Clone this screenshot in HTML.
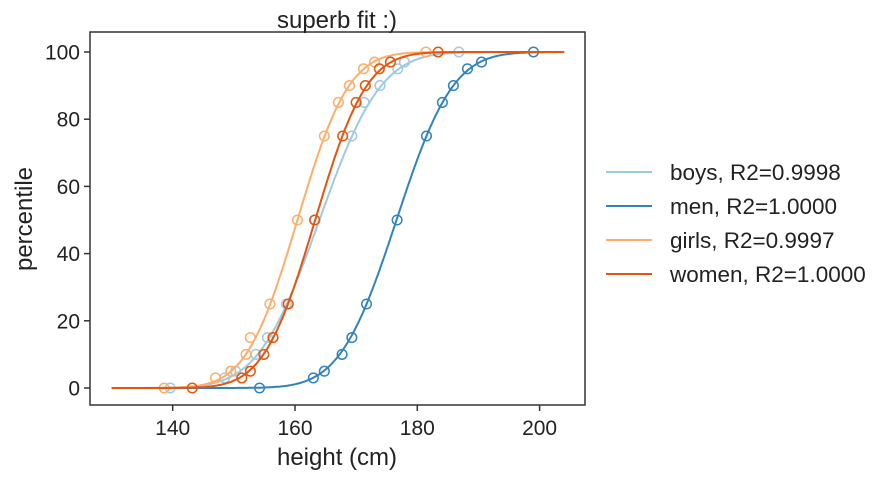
<!DOCTYPE html>
<html><head><meta charset="utf-8"><style>
body{margin:0;background:#fff;font-family:"Liberation Sans",Arial,sans-serif}
</style></head><body>
<svg id="c" width="889" height="477" xmlns="http://www.w3.org/2000/svg"></svg>
<script>
const levels=[0,3,5,10,15,25,50,75,85,90,95,97,100];
const boysH=[139.6,148.5,150.3,153.6,155.5,158.6,163.3,169.3,171.3,173.9,176.8,177.9,186.8];
const menH=[154.2,163.0,164.8,167.7,169.3,171.7,176.7,181.5,184.1,185.9,188.2,190.5,199.0];
const girlsH=[138.6,147.0,149.5,152.0,152.7,155.9,160.4,164.8,167.1,168.9,171.2,173.0,181.4];
const womenH=[143.2,151.3,152.7,154.9,156.4,158.9,163.2,167.8,170.0,171.5,173.8,175.6,183.4];
const fitMu=[164.0,176.6,160.4,163.3];
const fitSigma=[7.9,7.26,6.6,6.6];
const names=["boys, R2=0.9998","men, R2=1.0000","girls, R2=0.9997","women, R2=1.0000"];
const xTicks=[140,160,180,200];
const yTicks=[0,20,40,60,80,100];
const colors=["#9ecae1","#3182bd","#fdae6b","#e6550d"];
const series=[boysH,menH,girlsH,womenH];
const NS="http://www.w3.org/2000/svg";
const svg=document.getElementById('c');
const X=v=>172.7+(v-140)*6.115;
const Y=v=>388-v*3.36;
function el(t,a,p){const e=document.createElementNS(NS,t);for(const k in a)e.setAttribute(k,a[k]);(p||svg).appendChild(e);return e;}
function erf(x){const s=x<0?-1:1;x=Math.abs(x);const t=1/(1+0.3275911*x);const y=1-((((1.061405429*t-1.453152027)*t+1.421413741)*t-0.284496736)*t+0.254829592)*t*Math.exp(-x*x);return s*y;}
const frame=el('rect',{x:90,y:32,width:495,height:373,fill:'none',stroke:'#333','stroke-width':1.5});

xTicks.forEach(t=>{
 const l=el('line',{x1:X(t),x2:X(t),y1:405,y2:411,stroke:'#333','stroke-width':1.5});
 
 const tx=el('text',{x:X(t),y:435,'text-anchor':'middle','font-size':21,fill:'#222'});tx.textContent=t;
 
});
yTicks.forEach(t=>{
 const l=el('line',{x1:84,x2:90,y1:Y(t),y2:Y(t),stroke:'#333','stroke-width':1.5});
 
 const tx=el('text',{x:80,y:Y(t)+7.5,'text-anchor':'end','font-size':21,fill:'#222'});tx.textContent=t;
 
});
series.forEach((h,i)=>{
 let d='';
 for(let x=130;x<=204.001;x+=0.25){const p=50*(1+erf((x-fitMu[i])/(fitSigma[i]*Math.SQRT2)));d+=(d?'L':'M')+X(x).toFixed(1)+','+Y(p).toFixed(1);}
 const pa=el('path',{d:d,fill:'none',stroke:colors[i],'stroke-width':2});
 
 h.forEach((v,j)=>{
  const c=el('circle',{cx:X(v),cy:Y(levels[j]),r:4.8,fill:'none',stroke:colors[i],'stroke-width':1.5});
  
 });
 const ly=172+i*34;
 const ll=el('line',{x1:606,x2:652,y1:ly,y2:ly,stroke:colors[i],'stroke-width':2});
 
 const lt=el('text',{x:670,y:ly+8,'font-size':22.5,fill:'#222'});lt.textContent=names[i];
 
});
const ti=el('text',{x:337,y:28,'text-anchor':'middle','font-size':24,fill:'#222'});ti.textContent='superb fit :)';

const xl=el('text',{x:337,y:465,'text-anchor':'middle','font-size':24,fill:'#222'});xl.textContent='height (cm)';

const yl=el('text',{x:0,y:0,'text-anchor':'middle','font-size':24,fill:'#222',transform:'translate(32,219) rotate(-90)'});yl.textContent='percentile';

</script>
</body></html>
